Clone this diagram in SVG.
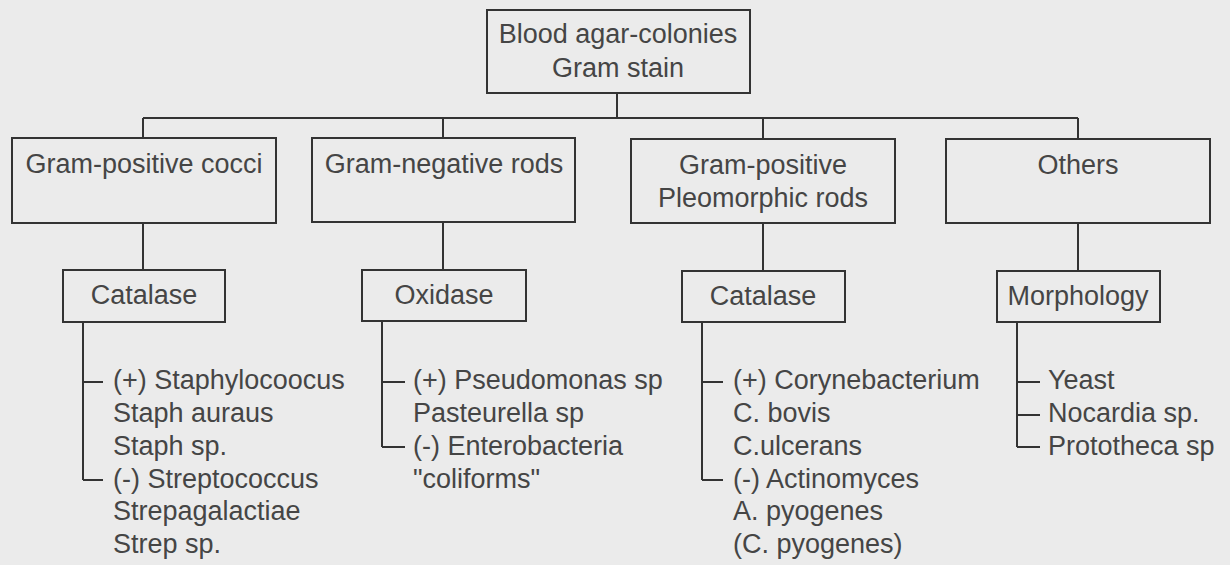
<svg xmlns="http://www.w3.org/2000/svg" width="1230" height="565" viewBox="0 0 1230 565">
<style>
.bg{fill:#ebebeb}
.box{fill:none;stroke:#333;stroke-width:2}
.ln{fill:none;stroke:#333;stroke-width:2}
text{font-family:"Liberation Sans",Arial,sans-serif;font-size:27px;fill:#454545}
.c{text-anchor:middle}
</style>
<rect class="bg" x="0" y="0" width="1230" height="565"/>
<g id="connectors">
<path class="ln" d="M617,93V118M143,118H1078M143,118V138M443,118V138M763,118V139M1078,118V139"/>
<path class="ln" d="M143,223V270M443,222V270M763,223V271M1078,223V271"/>
<path class="ln" d="M83,322V480M83,382H103M83,480H103"/>
<path class="ln" d="M382,321V447M382,382H405M382,447H405"/>
<path class="ln" d="M702,322V480M702,382H723M702,480H723"/>
<path class="ln" d="M1017,322V447M1017,382H1040M1017,415H1040M1017,447H1040"/>
</g>
<g id="root">
<rect class="box" x="487" y="10" width="263" height="83"/>
<text class="c" x="618" y="43">Blood agar-colonies</text>
<text class="c" x="618" y="77">Gram stain</text>
</g>
<g id="gp-cocci">
<rect class="box" x="12" y="138" width="264" height="85"/>
<text class="c" x="144" y="173">Gram-positive cocci</text>
</g>
<g id="gn-rods">
<rect class="box" x="312" y="138" width="263" height="84"/>
<text class="c" x="444" y="173">Gram-negative rods</text>
</g>
<g id="gp-pleo">
<rect class="box" x="631" y="139" width="264" height="84"/>
<text class="c" x="763" y="174">Gram-positive</text>
<text class="c" x="763" y="207">Pleomorphic rods</text>
</g>
<g id="others">
<rect class="box" x="946" y="139" width="264" height="84"/>
<text class="c" x="1078" y="174">Others</text>
</g>
<g id="catalase1">
<rect class="box" x="63" y="270" width="162" height="52"/>
<text class="c" x="144" y="304">Catalase</text>
</g>
<g id="oxidase">
<rect class="box" x="362" y="270" width="164" height="51"/>
<text class="c" x="444" y="304">Oxidase</text>
</g>
<g id="catalase2">
<rect class="box" x="682" y="271" width="163" height="51"/>
<text class="c" x="763" y="305">Catalase</text>
</g>
<g id="morphology">
<rect class="box" x="997" y="271" width="163" height="51"/>
<text class="c" x="1078" y="305">Morphology</text>
</g>
<g id="list-cocci">
<text x="113" y="389">(+) Staphylocoocus</text>
<text x="113" y="422">Staph auraus</text>
<text x="113" y="455">Staph sp.</text>
<text x="113" y="488">(-) Streptococcus</text>
<text x="113" y="520">Strepagalactiae</text>
<text x="113" y="553">Strep sp.</text>
</g>
<g id="list-rods">
<text x="413" y="389">(+) Pseudomonas sp</text>
<text x="413" y="422">Pasteurella sp</text>
<text x="413" y="455">(-) Enterobacteria</text>
<text x="413" y="488">"coliforms"</text>
</g>
<g id="list-pleo">
<text x="733" y="389">(+) Corynebacterium</text>
<text x="733" y="422">C. bovis</text>
<text x="733" y="455">C.ulcerans</text>
<text x="733" y="488">(-) Actinomyces</text>
<text x="733" y="520">A. pyogenes</text>
<text x="733" y="553">(C. pyogenes)</text>
</g>
<g id="list-others">
<text x="1048" y="389">Yeast</text>
<text x="1048" y="422">Nocardia sp.</text>
<text x="1048" y="455">Prototheca sp</text>
</g>
</svg>
